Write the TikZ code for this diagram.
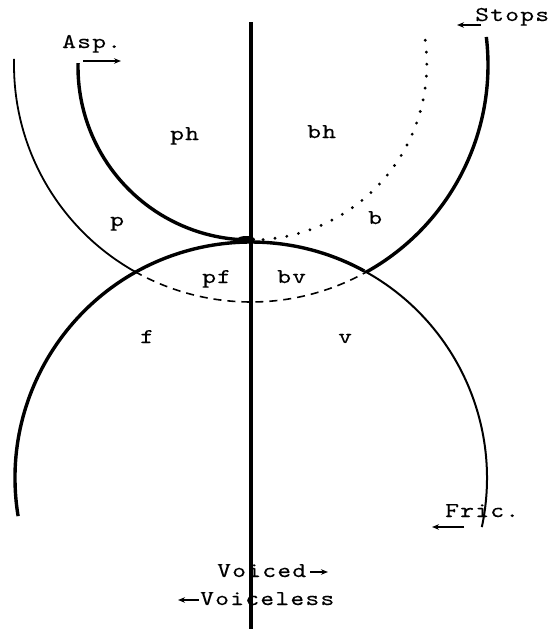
\documentclass[tikz,border=0pt]{standalone}
\usepackage{fontspec}
\usetikzlibrary{arrows.meta}
\newfontfamily\twfam{lmmono10-regular.otf}[FakeStretch=1.25,LetterSpace=6,FakeBold=0.25]
\newcommand\tw{\twfam\fontsize{21}{23}\selectfont}
\begin{document}
\begin{tikzpicture}[x=1pt,y=-1pt,
  thickline/.style={line width=3.4pt},
  thinline/.style={line width=1.8pt},
  lbl/.style={inner sep=0pt, anchor=base west, font=\tw},
  arr/.style={line width=1.5pt, -{Stealth[length=7pt,width=5.5pt]}}]
\useasboundingbox (0,0) rectangle (551,629);
% centres
\coordinate (CF) at (251,478);
\coordinate (CS) at (251,65);
\coordinate (CA) at (251,67);
% vertical line
\coordinate (vtop) at (251,22);
\coordinate (vbot) at (251,629);
\draw[line width=3.8pt] (vtop) -- (vbot);
% fricative circle
\draw[thickline] (CF) ++(170.7:236) arc[start angle=170.7, end angle=298.7, radius=236];
\draw[line width=2pt] (CF) ++(298.7:236) arc[start angle=298.7, end angle=372, radius=236];
% stops circle
\draw[thinline] (CS) ++(181.5:237) arc[start angle=181.5, end angle=119.4, radius=237];
\draw[line width=1.6pt, dash pattern=on 8pt off 6pt] (CS) ++(119.4:237) arc[start angle=119.4, end angle=60.9, radius=237];
\draw[thickline] (CS) ++(60.9:237) arc[start angle=60.9, end angle=-6.8, radius=237];
% aspirate circle
\draw[thickline] (CA) ++(181.3:173) arc[start angle=181.3, end angle=90, radius=173];
\draw[line width=3.2pt, line cap=round, dash pattern=on 0pt off 12pt] (CA) ++(86:173) arc[start angle=86, end angle=-10.5, radius=176];
% junction blob
\coordinate (J) at (246,239.5);
\fill (J) ellipse [x radius=9, y radius=3.5];
% labels
\node[lbl] (asp) at (62,48) {Asp.};
\node[lbl] (stops) at (475,21) {Stops};
\node[lbl] (ph) at (170,140) {ph};
\node[lbl] (bh) at (307,138) {bh};
\node[lbl] (p) at (110,226) {p};
\node[lbl] (b) at (368,224) {b};
\node[lbl] (pf) at (202,283) {pf};
\node[lbl] (bv) at (277,283) {bv};
\node[lbl] (f) at (140,343) {f};
\node[lbl] (v) at (338,343) {v};
\node[lbl] (fric) at (445,517) {Fric.};
\node[lbl] (voiced) at (217,577) {Voiced};
\node[lbl] (voiceless) at (200,605) {Voiceless};
% arrows
\coordinate (a1s) at (83,61); \coordinate (a1e) at (121,61);
\coordinate (a2s) at (481,25); \coordinate (a2e) at (457,25);
\coordinate (a3s) at (464,527); \coordinate (a3e) at (432,527);
\coordinate (a4s) at (310,572); \coordinate (a4e) at (328,572);
\coordinate (a5s) at (199,600); \coordinate (a5e) at (178,600);
\draw[arr] (a1s) -- (a1e);
\draw[arr] (a2s) -- (a2e);
\draw[arr] (a3s) -- (a3e);
\draw[arr] (a4s) -- (a4e);
\draw[arr] (a5s) -- (a5e);
\end{tikzpicture}
\end{document}
